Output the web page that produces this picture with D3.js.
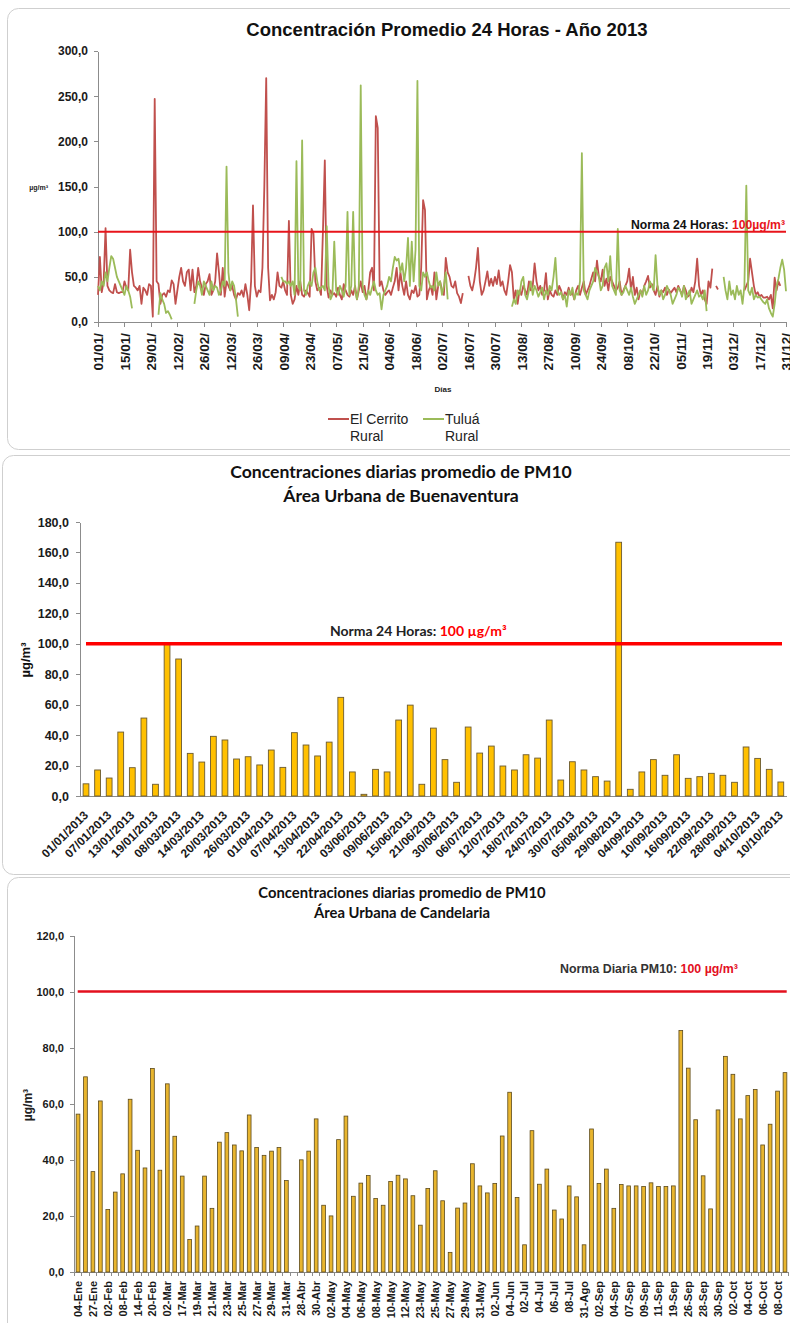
<!DOCTYPE html>
<html lang="es">
<head>
<meta charset="utf-8">
<title>PM10 2013</title>
<script src="https://d3js.org/d3.v7.min.js"></script>
<style>
  body { margin: 0; background: #fff; }
  svg text { font-family: "Liberation Sans", Arial, sans-serif; }
  .axis path, .axis line { stroke: #8c8c8c; shape-rendering: crispEdges; }
  svg text.cal { font-family: Lato, "Open Sans", sans-serif; }
</style>
</head>
<body>
<script>
// ---- panel 1: promedio 24 h, 2013 (un valor por dia, null = sin dato)
var topTicks = ["01/01/","15/01/","29/01/","12/02/","26/02/","12/03/","26/03/","09/04/","23/04/",
  "07/05/","21/05/","04/06/","18/06/","02/07/","16/07/","30/07/","13/08/","27/08/","10/09/",
  "24/09/","08/10/","22/10/","05/11/","19/11/","03/12/","17/12/","31/12/"];

var cerrito = [
  // ene
  30,72,33,45,104,40,35,33,32,42,33,32,33,33,45,38,35,80,55,40,38,35,40,20,38,35,30,42,40,6,247,
  // feb
  45,42,20,30,32,28,35,33,46,42,20,35,50,60,45,40,55,58,35,58,33,40,60,45,38,30,42,45,
  // mar
  53,30,35,45,76,55,30,60,28,45,40,35,40,30,25,32,30,35,28,42,30,13,45,129,40,28,35,33,60,150,270,
  // abr
  60,24,30,25,33,55,40,38,45,35,30,112,30,20,25,40,30,45,30,28,35,32,28,103,98,45,35,38,30,100,
  // may
  179,40,27,35,30,32,28,38,30,25,42,35,30,28,35,30,40,25,35,45,33,40,25,35,55,60,35,228,215,40,45,
  // jun
  35,30,33,35,30,38,45,60,35,55,40,30,45,30,25,35,32,40,28,30,60,135,124,25,35,40,30,55,25,40,
  // jul
  45,35,30,71,55,50,40,38,45,32,28,21,32,null,null,51,40,35,45,60,82,45,30,35,45,56,40,48,40,50,42,
  // ago
  57,40,45,35,30,45,63,55,25,35,20,35,30,40,35,30,45,35,40,65,45,35,40,30,35,54,25,35,30,28,35,
  // sep
  30,40,35,25,33,30,38,30,33,25,35,40,30,38,45,30,35,40,48,55,45,68,50,45,58,40,48,35,50,45,
  // oct
  40,35,38,45,30,35,40,45,59,35,50,30,38,25,35,30,40,45,51,38,42,35,30,40,28,35,33,38,30,36,32,
  // nov
  35,38,33,40,35,30,40,35,28,30,38,33,45,70,40,30,35,25,20,45,38,59,null,40,36,null,null,null,null,null,
  // dic
  null,null,null,null,null,null,null,null,35,40,45,70,55,40,30,33,28,30,27,27,28,25,30,15,49,35,45,40,null,null,null
];

var tulua = [
  // ene
  40,35,45,40,55,45,60,73,70,60,50,45,40,35,30,40,35,28,15,null,null,null,null,null,null,null,null,null,null,null,null,
  // feb
  null,8,32,25,20,10,12,8,3,null,null,null,null,null,null,null,null,null,null,null,20,35,45,40,30,45,40,35,
  // mar
  30,45,35,40,38,30,35,45,40,172,55,35,45,40,25,6,null,null,null,null,null,null,null,null,null,null,null,null,null,null,null,
  // abr
  null,null,null,null,null,null,null,50,45,45,42,45,40,45,30,178,40,35,201,35,30,40,45,40,55,60,45,35,38,40,
  // may
  35,106,40,25,30,89,35,30,40,35,28,40,122,30,40,122,35,25,40,262,40,30,25,35,30,38,45,35,30,32,14,
  // jun
  30,35,40,50,45,60,72,68,70,55,65,45,60,93,40,89,45,80,267,40,35,55,50,55,45,38,40,35,55,40,
  // jul
  45,30,40,55,25,null,null,null,null,null,null,null,null,null,null,null,null,null,null,null,null,null,null,null,null,null,null,null,null,null,null,
  // ago
  null,null,null,null,null,null,null,17,25,20,35,30,45,50,30,25,35,45,30,40,35,28,33,38,25,35,30,40,35,50,71,
  // sep
  35,30,33,25,30,17,35,30,38,25,32,30,45,187,35,30,25,35,40,45,60,55,50,35,40,60,65,45,73,40,
  // oct
  35,30,103,35,30,33,40,35,30,38,28,20,25,30,35,28,40,30,35,45,40,35,74,40,30,35,25,30,40,35,30,
  // nov
  20,25,30,38,35,28,40,25,30,35,20,25,30,35,28,30,25,35,12,null,null,null,null,null,null,null,null,50,35,25,
  // dic
  45,30,35,25,40,30,35,20,40,151,35,30,38,25,30,27,28,25,22,20,25,15,10,6,20,40,48,60,69,58,34
];

// ---- panel 2: Buenaventura
var buenLabels = ["01/01/2013","07/01/2013","13/01/2013","19/01/2013","08/03/2013","14/03/2013",
  "20/03/2013","26/03/2013","01/04/2013","07/04/2013","13/04/2013","22/04/2013","03/06/2013",
  "09/06/2013","15/06/2013","21/06/2013","30/06/2013","06/07/2013","12/07/2013","18/07/2013",
  "24/07/2013","30/07/2013","05/08/2013","29/08/2013","04/09/2013","10/09/2013","16/09/2013",
  "22/09/2013","28/09/2013","04/10/2013","10/10/2013"];
var buenValues = [8,17.1,11.8,42,18.6,51.2,7.7,99.8,90,28,22.3,39.2,36.8,24.3,25.8,20.4,30.2,18.8,
  41.6,33.5,26.3,35.4,64.8,15.8,1.1,17.5,15.8,49.9,59.7,7.7,44.6,23.9,9,45.3,28.2,32.8,19.7,17.1,
  27.1,24.9,49.9,10.5,22.5,17.1,12.7,9.8,166.7,4.4,15.8,23.9,13.6,27.1,11.6,12.7,14.9,13.6,9,32.2,
  24.7,17.5,9.2];

// ---- panel 3: Candelaria
var candLabels = ["04-Ene","27-Ene","02-Feb","08-Feb","14-Feb","20-Feb","02-Mar","17-Mar","19-Mar",
  "21-Mar","23-Mar","25-Mar","27-Mar","29-Mar","31-Mar","28-Abr","30-Abr","02-May","04-May",
  "06-May","08-May","10-May","12-May","23-May","25-May","27-May","29-May","31-May","02-Jun",
  "04-Jun","02-Jul","04-Jul","06-Jul","08-Jul","31-Ago","02-Sep","04-Sep","07-Sep","09-Sep",
  "11-Sep","19-Sep","26-Sep","28-Sep","30-Sep","02-Oct","04-Oct","06-Oct","08-Oct"];
var candValues = [56.3,69.6,35.8,61,22.3,28.5,35,61.6,43.4,37.1,72.6,36.3,67.1,48.4,34.2,11.6,16.4,
  34.2,22.7,46.3,49.7,45.3,43.2,56,44.4,41.6,43.1,44.4,32.6,null,40,43.1,54.6,23.8,20,47.2,55.6,27,
  31.7,34.4,26.2,23.8,32.3,34.5,33.2,27.2,16.7,29.8,36.1,25.4,7,22.8,24.6,38.6,30.7,28.2,31.6,48.5,
  64.1,26.6,9.7,50.4,31.3,36.7,22.1,18.9,30.7,26.8,9.7,51,31.6,36.7,22.7,31.2,30.7,30.7,30.5,31.8,
  30.5,30.5,30.7,86.1,72.7,54.3,34.3,22.5,57.8,76.9,70.5,54.6,62.9,65.1,45.3,52.7,64.5,71.1];

var fmt = function(d) { return d3.format(".1f")(d).replace(".", ","); };

var svg = d3.select("body").append("svg").attr("width", 790).attr("height", 1323);

// marcos de los tres graficos
[[7.5, 8.5, 441], [2.5, 455.5, 419], [7.5, 877.5, 470]].forEach(function(p) {
  svg.append("rect").attr("x", p[0]).attr("y", p[1]).attr("width", 820).attr("height", p[2])
    .attr("rx", 11).attr("fill", "none").attr("stroke", "#cfcfcf");
});

function styleTicks(g, size, bold) {
  g.selectAll("text").attr("font-size", size).attr("font-weight", bold ? "bold" : "normal").attr("fill", "#1a1a1a");
}

// ================= panel 1 =================
var x1 = d3.scaleLinear().domain([0, 364]).range([98, 786]);
var y1 = d3.scaleLinear().domain([0, 300]).range([322, 51]);

svg.append("text").attr("x", 447).attr("y", 36).attr("text-anchor", "middle")
  .attr("font-size", 18.5).attr("font-weight", "bold").attr("fill", "#111")
  .text("Concentración Promedio 24 Horas - Año 2013");

svg.append("g").attr("class", "axis").attr("transform", "translate(98,0)")
  .call(d3.axisLeft(y1).tickValues(d3.range(0, 301, 50)).tickSize(4).tickSizeOuter(0).tickPadding(6).tickFormat(fmt))
  .call(styleTicks, 12, true);

svg.append("g").attr("class", "axis").attr("transform", "translate(0,322)")
  .call(d3.axisBottom(x1).tickValues(d3.range(0, 365, 14)).tickSize(5).tickSizeOuter(0)
    .tickFormat(function(d, i) { return topTicks[i]; }))
  .call(styleTicks, 13.5, true)
  .selectAll("text").attr("transform", "rotate(-90)").attr("text-anchor", "end")
  .attr("x", -11).attr("y", 0).attr("dy", "0.36em");

svg.append("text").attr("x", 48).attr("y", 190).attr("text-anchor", "end")
  .attr("font-size", 7).attr("font-weight", "bold").attr("fill", "#222").text("µg/m³");
svg.append("text").attr("x", 443).attr("y", 392).attr("text-anchor", "middle")
  .attr("font-size", 8).attr("font-weight", "bold").attr("fill", "#222").text("Días");

var line1 = d3.line().defined(function(d) { return d != null; })
  .x(function(d, i) { return x1(i); }).y(function(d) { return y1(d); });

svg.append("path").datum(cerrito).attr("d", line1).attr("fill", "none")
  .attr("stroke", "#c0504d").attr("stroke-width", 1.8).attr("stroke-linejoin", "round");
svg.append("path").datum(tulua).attr("d", line1).attr("fill", "none")
  .attr("stroke", "#9bbb59").attr("stroke-width", 1.8).attr("stroke-linejoin", "round");

svg.append("line").attr("x1", x1(0)).attr("x2", x1(364)).attr("y1", y1(100)).attr("y2", y1(100))
  .attr("stroke", "#e8141b").attr("stroke-width", 2);

var n1 = svg.append("text").attr("x", 631).attr("y", 229).attr("font-size", 12.2).attr("font-weight", "bold");
n1.append("tspan").attr("fill", "#111").text("Norma 24 Horas: ");
n1.append("tspan").attr("fill", "#e8141b").text("100µg/m³");

// leyenda
[["#c0504d", 328, "El Cerrito"], ["#9bbb59", 423, "Tuluá"]].forEach(function(l) {
  svg.append("line").attr("x1", l[1]).attr("x2", l[1] + 21).attr("y1", 419).attr("y2", 419)
    .attr("stroke", l[0]).attr("stroke-width", 2);
  var t = svg.append("text").attr("x", l[1] + 22).attr("y", 424).attr("font-size", 14).attr("fill", "#222");
  t.append("tspan").text(l[2]);
  t.append("tspan").attr("x", l[1] + 22).attr("dy", 17).text("Rural");
});

// ================= panel 2 =================
var x2 = d3.scaleBand().domain(d3.range(buenValues.length)).range([80.2, 786.6])
  .paddingInner(0.5).paddingOuter(0.25);
var y2 = d3.scaleLinear().domain([0, 180]).range([796, 522]);

var t2 = svg.append("text").attr("class", "cal").attr("x", 401).attr("y", 478).attr("text-anchor", "middle")
  .attr("font-size", 17.6).attr("font-weight", "bold").attr("fill", "#111");
t2.append("tspan").text("Concentraciones diarias promedio de PM10");
t2.append("tspan").attr("x", 401).attr("dy", 23.5).text("Área Urbana de Buenaventura");

svg.append("g").attr("class", "axis").attr("transform", "translate(80,0)")
  .call(d3.axisLeft(y2).tickValues(d3.range(0, 181, 20)).tickSize(4).tickSizeOuter(0).tickPadding(7).tickFormat(fmt))
  .call(styleTicks, 12.5, true);

svg.append("g").attr("class", "axis").attr("transform", "translate(0,796)")
  .call(d3.axisBottom(x2).tickValues(d3.range(0, buenValues.length, 2)).tickSize(0).tickSizeOuter(0)
    .tickFormat(function(d) { return buenLabels[d / 2]; }))
  .call(styleTicks, 12, true)
  .selectAll("text").attr("transform", "rotate(-45)").attr("text-anchor", "end")
  .attr("x", -12).attr("y", 12).attr("dy", "0.35em");

svg.append("text").attr("transform", "translate(30,660) rotate(-90)").attr("text-anchor", "middle")
  .attr("font-size", 13).attr("font-weight", "bold").attr("fill", "#111").text("µg/m³");

svg.append("g").selectAll("rect").data(buenValues).join("rect")
  .attr("x", function(d, i) { return x2(i); }).attr("width", x2.bandwidth())
  .attr("y", function(d) { return y2(d); }).attr("height", function(d) { return y2(0) - y2(d); })
  .attr("fill", "#ffc000").attr("stroke", "#6b5a30").attr("stroke-width", 0.9);

svg.append("line").attr("x1", 86).attr("x2", 782).attr("y1", y2(100)).attr("y2", y2(100))
  .attr("stroke", "#ff0000").attr("stroke-width", 3.5);

var n2 = svg.append("text").attr("class", "cal").attr("x", 330).attr("y", 636)
  .attr("font-size", 14).attr("font-weight", "bold");
n2.append("tspan").attr("fill", "#222").text("Norma 24 Horas: ");
n2.append("tspan").attr("fill", "#ff0000").text("100 µg/m³");

// ================= panel 3 =================
var x3 = d3.scaleBand().domain(d3.range(candValues.length)).range([74.3, 788.7])
  .paddingInner(0.5).paddingOuter(0.25);
var y3 = d3.scaleLinear().domain([0, 120]).range([1272, 935.5]);

var t3 = svg.append("text").attr("class", "cal").attr("x", 402).attr("y", 898).attr("text-anchor", "middle")
  .attr("font-size", 14.8).attr("font-weight", "bold").attr("fill", "#111");
t3.append("tspan").text("Concentraciones diarias promedio de PM10");
t3.append("tspan").attr("x", 402).attr("dy", 19.5).text("Área Urbana de Candelaria");

svg.append("g").attr("class", "axis").attr("transform", "translate(74,0)")
  .call(d3.axisLeft(y3).tickValues(d3.range(0, 121, 20)).tickSize(4).tickSizeOuter(0).tickPadding(6).tickFormat(fmt))
  .call(styleTicks, 11, true);

var ax3 = svg.append("g").attr("class", "axis").attr("transform", "translate(0,1272)")
  .call(d3.axisBottom(x3).tickValues(d3.range(0, candValues.length, 2)).tickSize(0).tickSizeOuter(0)
    .tickFormat(function(d) { return candLabels[d / 2]; }))
  .call(styleTicks, 11, true);
ax3.selectAll("text").attr("transform", "rotate(-90)").attr("text-anchor", "end")
  .attr("x", -9).attr("y", 0).attr("dy", "0.36em");
ax3.selectAll("line.sep").data(d3.range(candValues.length + 1)).join("line").attr("class", "sep")
  .attr("x1", function(d) { return x3.range()[0] + x3.step() * d; })
  .attr("x2", function(d) { return x3.range()[0] + x3.step() * d; })
  .attr("y1", 0).attr("y2", 4);

svg.append("text").attr("transform", "translate(32,1105) rotate(-90)").attr("text-anchor", "middle")
  .attr("font-size", 12).attr("font-weight", "bold").attr("fill", "#222").text("µg/m³");

svg.append("g").selectAll("rect").data(candValues).join("rect")
  .attr("display", function(d) { return d == null ? "none" : null; })
  .attr("x", function(d, i) { return x3(i); })
  .attr("width", x3.bandwidth())
  .attr("y", function(d) { return y3(d || 0); }).attr("height", function(d) { return y3(0) - y3(d || 0); })
  .attr("fill", "#e8b52e").attr("stroke", "#5c4a1c").attr("stroke-width", 0.8);

svg.append("line").attr("x1", 77.7).attr("x2", 786.7).attr("y1", y3(100)).attr("y2", y3(100))
  .attr("stroke", "#e3101e").attr("stroke-width", 2.5);

var n3 = svg.append("text").attr("x", 560).attr("y", 973).attr("font-size", 12.4).attr("font-weight", "bold");
n3.append("tspan").attr("fill", "#333").text("Norma Diaria PM10: ");
n3.append("tspan").attr("fill", "#e3101e").text("100 µg/m³");
</script>
</body>
</html>
